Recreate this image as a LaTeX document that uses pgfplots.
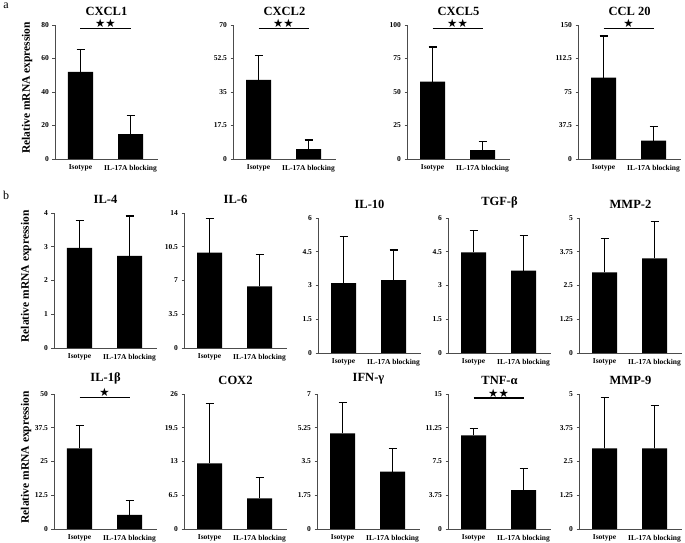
\documentclass[border=0pt]{standalone}
\usepackage{fontspec}
\setmainfont{Liberation Serif}
\newfontfamily\symfont{DejaVu Sans}
\usepackage{pgfplots}
\pgfplotsset{compat=1.18}

\pgfplotsset{
  panel/.style={
    scale only axis, width=103pt, height=135pt, anchor=south west,
    xmin=0.49, xmax=2.55, ymin=0, clip=false,
    axis x line*=bottom, axis y line*=left,
    axis line style={draw=black!70, line width=0.8pt},
    xtick={1,2}, xticklabels={Isotype, IL-17A blocking},
    x tick style={draw=none},
    y tick style={draw=black!70, line width=0.6pt},
    tick align=outside, major tick length=2.5pt,
    ticklabel style={font=\bfseries\fontsize{7.5}{8}\selectfont},
    /pgf/number format/assume math mode=true,
    yticklabel style={/pgf/number format/fixed, /pgf/number format/precision=2},
    title style={font=\bfseries\fontsize{12.5}{14}\selectfont},
    ylabel style={font=\bfseries\fontsize{11.5}{13}\selectfont,
      at={(axis description cs:-0.27,0.53)}, anchor=center},
  },
  bars/.style={ybar, bar width=25pt, bar shift=0pt, fill=black, draw=none,
    error bars/.cd, y dir=plus, y explicit,
    error bar style={draw=black, line width=1.1pt},
    error mark options={draw=black, line width=1.1pt, mark size=4pt, rotate=90}},
  sig/.style={sharp plot, no marks, black, line width=1.1pt},
}
\newcommand{\stars}[1]{node[pos=0.5, anchor=south, inner sep=0.3pt, font=\symfont\fontsize{11.5}{12}\selectfont] {#1}}

\begin{document}
\begin{tikzpicture}
\useasboundingbox (0,0) rectangle (685pt,543pt);
\node[anchor=center, font=\fontsize{12}{13}\selectfont] at (6pt,537pt) {a};
\node[anchor=center, font=\fontsize{12}{13}\selectfont] at (6pt,348pt) {b};

% ---- a ----
\begin{axis}[panel, at={(55pt,384pt)}, height=134pt, ymax=80, ytick={0,20,40,60,80},
  title={CXCL1}, ylabel={Relative mRNA expression}]
\addplot[bars] coordinates {(1,52.0) +- (0,13.5) (2,14.8) +- (0,11.0)};
\addplot[sig] coordinates {(1,77.9) (2,77.9)} \stars{★★};
\end{axis}

\begin{axis}[panel, at={(233pt,384pt)}, height=134pt, ymax=70, ytick={0,17.5,35,52.5,70},
  title={CXCL2}]
\addplot[bars] coordinates {(1,41.3) +- (0,12.7) (2,5.1) +- (0,4.8)};
\addplot[sig] coordinates {(1,68.2) (2,68.2)} \stars{★★};
\end{axis}

\begin{axis}[panel, at={(407pt,384pt)}, height=134pt, ymax=100, ytick={0,25,50,75,100},
  title={CXCL5}]
\addplot[bars] coordinates {(1,57.7) +- (0,25.9) (2,6.7) +- (0,6.2)};
\addplot[sig] coordinates {(1,97.4) (2,97.4)} \stars{★★};
\end{axis}

\begin{axis}[panel, at={(578pt,384pt)}, height=134pt, ymax=150, ytick={0,37.5,75,112.5,150},
  title={CCL 20}]
\addplot[bars] coordinates {(1,91.0) +- (0,46.7) (2,20.5) +- (0,15.7)};
\addplot[sig] coordinates {(1,146.1) (2,146.1)} \stars{★};
\end{axis}

% ---- b, first row ----
\begin{axis}[panel, at={(54pt,195pt)}, ymax=4, ytick={0,1,2,3,4},
  title={IL-4}, ylabel={Relative mRNA expression}]
\addplot[bars] coordinates {(1,2.97) +- (0,0.80) (2,2.73) +- (0,1.18)};
\end{axis}

\begin{axis}[panel, at={(184pt,195pt)}, ymax=14, ytick={0,3.5,7,10.5,14},
  title={IL-6}]
\addplot[bars] coordinates {(1,9.9) +- (0,3.5) (2,6.4) +- (0,3.3)};
\end{axis}

\begin{axis}[panel, at={(318pt,190pt)}, ymax=6, ytick={0,1.5,3,4.5,6},
  title={IL-10}]
\addplot[bars] coordinates {(1,3.10) +- (0,2.07) (2,3.24) +- (0,1.34)};
\end{axis}

\begin{axis}[panel, at={(448pt,190pt)}, ymax=6, ytick={0,1.5,3,4.5,6},
  title={TGF-β}]
\addplot[bars] coordinates {(1,4.47) +- (0,0.97) (2,3.66) +- (0,1.58)};
\end{axis}

\begin{axis}[panel, at={(579pt,190pt)}, ymax=5, ytick={0,1.25,2.5,3.75,5},
  title={MMP-2}]
\addplot[bars] coordinates {(1,2.99) +- (0,1.26) (2,3.50) +- (0,1.36)};
\end{axis}

% ---- b, second row ----
\begin{axis}[panel, at={(54pt,14pt)}, ymax=50, ytick={0,12.5,25,37.5,50},
  title={IL-1β}, ylabel={Relative mRNA expression}]
\addplot[bars] coordinates {(1,29.9) +- (0,8.6) (2,5.2) +- (0,5.3)};
\addplot[sig] coordinates {(1,48.6) (2,48.6)} \stars{★};
\end{axis}

\begin{axis}[panel, at={(184pt,14pt)}, ymax=26, ytick={0,6.5,13,19.5,26},
  title={COX2}]
\addplot[bars] coordinates {(1,12.65) +- (0,11.55) (2,5.9) +- (0,4.05)};
\end{axis}

\begin{axis}[panel, at={(317pt,14pt)}, ymax=7, ytick={0,1.75,3.5,5.25,7},
  title={IFN-γ}]
\addplot[bars] coordinates {(1,4.96) +- (0,1.61) (2,2.97) +- (0,1.21)};
\end{axis}

\begin{axis}[panel, at={(448pt,14pt)}, ymax=15, ytick={0,3.75,7.5,11.25,15},
  title={TNF-α}]
\addplot[bars] coordinates {(1,10.4) +- (0,0.76) (2,4.33) +- (0,2.35)};
\addplot[sig] coordinates {(1,14.55) (2,14.55)} \stars{★★};
\end{axis}

\begin{axis}[panel, at={(579pt,14pt)}, ymax=5, ytick={0,1.25,2.5,3.75,5},
  title={MMP-9}]
\addplot[bars] coordinates {(1,2.99) +- (0,1.89) (2,2.99) +- (0,1.60)};
\end{axis}
\end{tikzpicture}
\end{document}
